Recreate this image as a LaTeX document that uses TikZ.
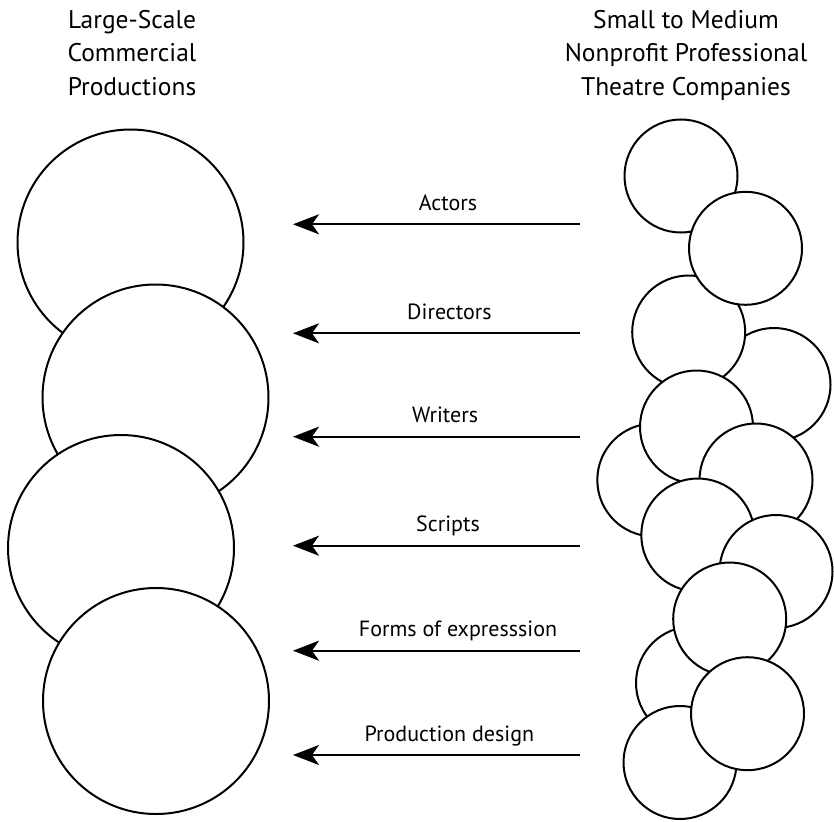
\documentclass[tikz,border=0pt]{standalone}
\usepackage{fontspec}
\setmainfont{PT Sans}
\usetikzlibrary{arrows.meta}

\begin{document}
\begin{tikzpicture}[x=1pt, y=-1pt, line width=2pt]
      \tikzset{big/.style={draw, circle, fill=white, inner sep=0pt, minimum size=226pt},
               small/.style={draw, circle, fill=white, inner sep=0pt, minimum size=113pt},
               flow/.style={-{Stealth[length=26pt, width=20pt, inset=7pt]}},
               head/.style={align=center, inner sep=0pt, anchor=north, font=\fontsize{25.5}{33.5}\selectfont},
               what/.style={anchor=base, yshift=14pt, inner sep=0pt, font=\fontsize{22}{26}\selectfont}}
      \useasboundingbox (0,0) rectangle (834,821);
%% Headings
      \node[head] (large) at (132,9) {Large-Scale\\Commercial\\Productions};
      \node[head] (small) at (686,9) {Small to Medium\\Nonprofit Professional\\Theatre Companies};
%% Commercial productions
      \node[big] (c1) at (130.5,242.5) {};
      \node[big] (c2) at (155.5,397.5) {};
      \node[big] (c3) at (121,548) {};
      \node[big] (c4) at (156,701) {};
%% Nonprofit companies
      \node[small] (n1) at (681,176) {};
      \node[small] (n4) at (774,384.5) {};
      \node[small] (n3) at (688.7,332) {};
      \node[small] (n2) at (745.5,248.3) {};
      \node[small] (n6) at (653.8,480) {};
      \node[small] (n5) at (696.5,427) {};
      \node[small] (n7) at (756,480) {};
      \node[small] (n8) at (697.8,535) {};
      \node[small] (n9) at (776,571.5) {};
      \node[small] (n11) at (692.5,683) {};
      \node[small] (n10) at (729.7,619) {};
      \node[small] (n13) at (680,762.5) {};
      \node[small] (n12) at (747.5,713.7) {};
%% Arrow ends
      \coordinate (s1) at (580,224.3); \coordinate (e1) at (293,224.3);
      \coordinate (s2) at (580,333.3); \coordinate (e2) at (293,333.3);
      \coordinate (s3) at (580,436.7); \coordinate (e3) at (293,436.7);
      \coordinate (s4) at (580,545.7); \coordinate (e4) at (293,545.7);
      \coordinate (s5) at (580,650.7); \coordinate (e5) at (293,650.7);
      \coordinate (s6) at (580,755); \coordinate (e6) at (293,755);
%Flows
      \path[flow] (s1) edge node[what, pos=0.46] {Actors} (e1);
      \path[flow] (s2) edge node[what, pos=0.455] {Directors} (e2);
      \path[flow] (s3) edge node[what, pos=0.47] {Writers} (e3);
      \path[flow] (s4) edge node[what, pos=0.46] {Scripts} (e4);
      \path[flow] (s5) edge node[what, pos=0.425] {Forms of expresssion} (e5);
      \path[flow] (s6) edge node[what, pos=0.455] {Production design} (e6);
\end{tikzpicture}
\end{document}
